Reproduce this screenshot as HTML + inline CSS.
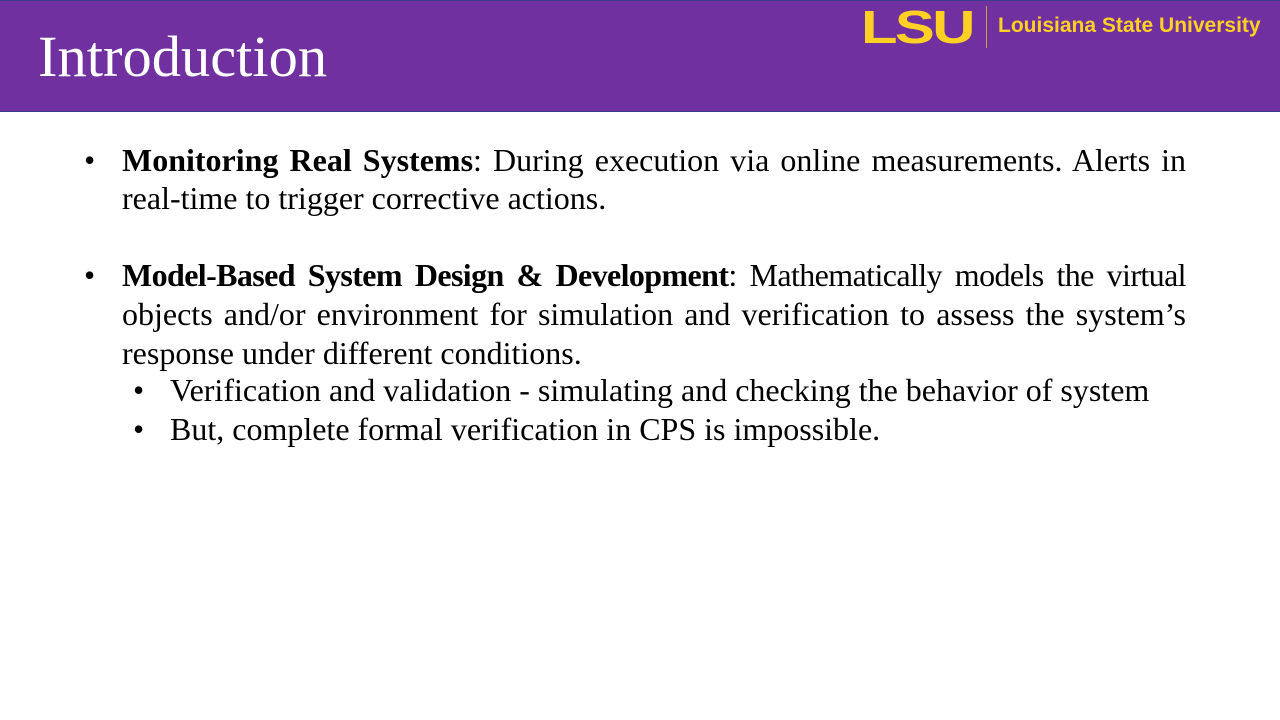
<!DOCTYPE html>
<html><head><meta charset="utf-8"><style>
body{margin:0;width:1280px;height:720px;position:relative;background:#fff;overflow:hidden;font-family:"Liberation Serif",serif;}
.hdr{position:absolute;left:0;top:0;width:1280px;height:112px;background:#7030A0;border-top:1px solid #3c3c8c;border-bottom:1px solid #3c3c8c;box-sizing:border-box;}
.title{position:absolute;left:38px;top:22px;font-size:58.5px;color:#fff;line-height:70px;}
.lsu{position:absolute;left:861px;top:4px;font-family:"Liberation Sans",sans-serif;font-weight:bold;font-size:46px;color:#FDD023;letter-spacing:-2px;transform:scaleX(1.3);transform-origin:left;line-height:46px;}
.div{position:absolute;left:986px;top:6px;width:1px;height:42px;background:#c9a23a;}
.uni{position:absolute;left:998px;top:13px;font-family:"Liberation Sans",sans-serif;font-weight:bold;font-size:21px;color:#FDD023;line-height:26px;}
.ln{position:absolute;font-size:32px;line-height:38px;color:#000;white-space:nowrap;}
.j{text-align:justify;text-align-last:justify;white-space:normal;height:38px;overflow:visible;}
.b{position:absolute;font-size:32px;line-height:38px;}
</style></head><body>
<div class="hdr"></div>
<div class="title">Introduction</div>
<div class="lsu">LSU</div>
<div class="div"></div>
<div class="uni">Louisiana State University</div>

<div class="b" style="left:84px;top:141px">•</div>
<div class="ln j" style="left:122px;top:141px;width:1064px"><b>Monitoring Real Systems</b>: During execution via online measurements. Alerts in</div>
<div class="ln" style="left:122px;top:179px">real-time to trigger corrective actions.</div>

<div class="b" style="left:84px;top:256px">•</div>
<div class="ln j" style="left:122px;top:256px;width:1064px;letter-spacing:-0.6px"><b>Model-Based System Design &amp; Development</b>: Mathematically models the virtual</div>
<div class="ln j" style="left:122px;top:295px;width:1064px">objects and/or environment for simulation and verification to assess the system’s</div>
<div class="ln" style="left:122px;top:334px">response under different conditions.</div>

<div class="b" style="left:133px;top:371px">•</div>
<div class="ln" style="left:170px;top:371px">Verification and validation - simulating and checking the behavior of system</div>
<div class="b" style="left:133px;top:410px">•</div>
<div class="ln" style="left:170px;top:410px">But, complete formal verification in CPS is impossible.</div>
</body></html>
